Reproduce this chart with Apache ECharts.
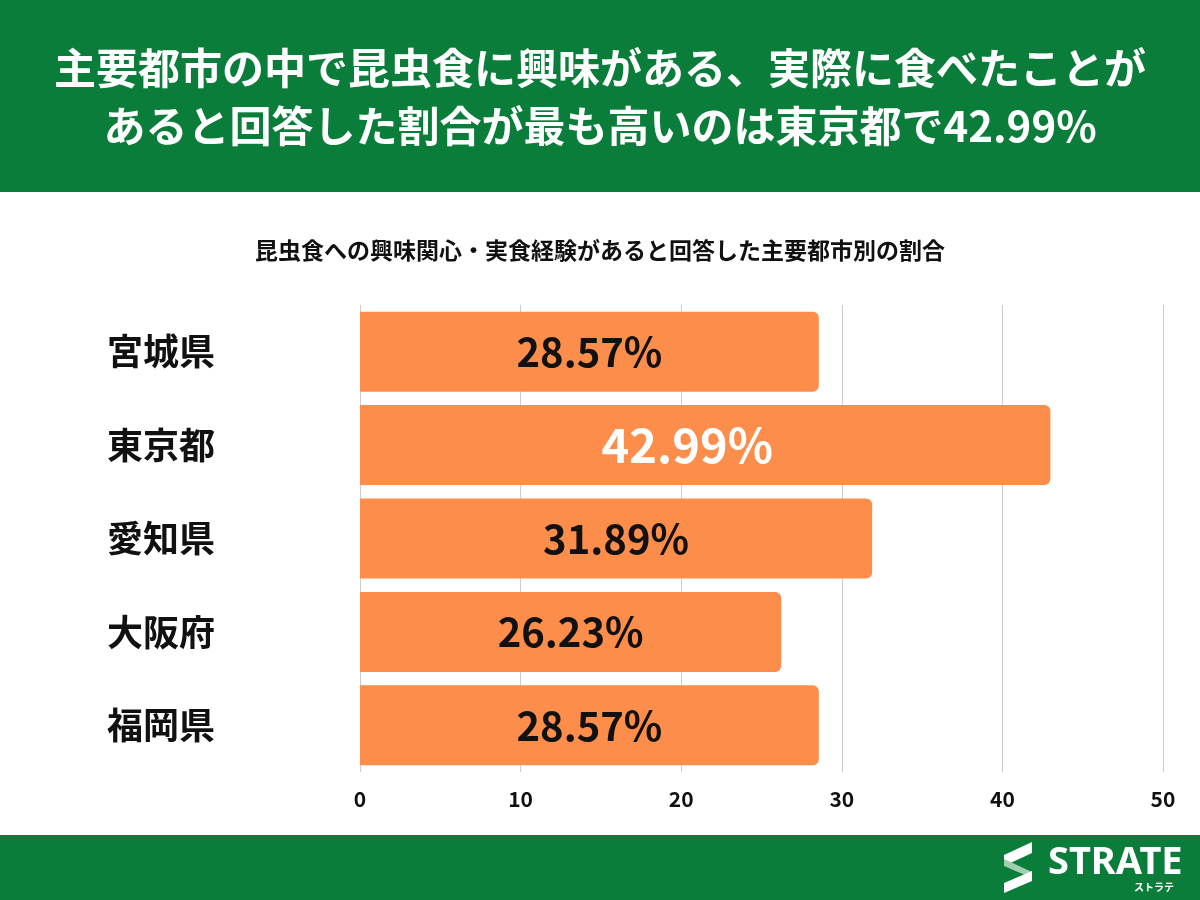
<!DOCTYPE html>
<html><head><meta charset="utf-8">
<script src="https://cdn.jsdelivr.net/npm/echarts@6/dist/echarts.min.js"></script>
<style>html,body{margin:0;padding:0;background:#fff}#c{width:1200px;height:900px}</style>
</head><body><div id="c"></div>
<script>
const titleLines = ['主要都市の中で昆虫食に興味がある、実際に食べたことが', 'あると回答した割合が最も高いのは東京都で42.99%'];
const subtitle = '昆虫食への興味関心・実食経験があると回答した主要都市別の割合';
const categories = ['宮城県', '東京都', '愛知県', '大阪府', '福岡県'];
const values = [28.57, 42.99, 31.89, 26.23, 28.57];
const highlight = '東京都';
const xTicks = { min: 0, max: 50, interval: 10 };

const F = '"Noto Sans CJK JP", "Noto Sans", sans-serif';
const GREEN = '#0a7d3a';
const ORANGE = '#fd8d4b';

const chart = echarts.init(document.getElementById('c'), null, { renderer: 'canvas' });
chart.setOption({
  backgroundColor: '#fff',
  animation: false,
  graphic: [
    { type: 'rect', left: 0, top: 0, shape: { width: 1200, height: 192 }, style: { fill: GREEN }, z: 0 },
    { type: 'text', x: 600, y: 68, style: { text: titleLines[0], fill: '#fff', font: 'bold 42px ' + F, textAlign: 'center', textVerticalAlign: 'middle' } },
    { type: 'text', x: 600, y: 126, style: { text: titleLines[1], fill: '#fff', font: 'bold 42px ' + F, textAlign: 'center', textVerticalAlign: 'middle' } },
    { type: 'text', x: 600, y: 250, style: { text: subtitle, fill: '#111', font: 'bold 23px ' + F, textAlign: 'center', textVerticalAlign: 'middle' } },
    { type: 'rect', left: 0, top: 835, shape: { width: 1200, height: 65 }, style: { fill: GREEN }, z: 0 },
    { type: 'polygon', shape: { points: [[1032, 842], [1032, 853], [1004, 866], [1004, 855]] }, style: { fill: '#fff' } },
    { type: 'polygon', shape: { points: [[1004, 859], [1032, 872], [1032, 878], [1004, 866]] }, style: { fill: '#9fcfae' } },
    { type: 'polygon', shape: { points: [[1032, 871], [1032, 881], [1004, 893], [1004, 883]] }, style: { fill: '#fff' } },
    { type: 'text', x: 1048, y: 863, style: { text: 'STRATE', fill: '#fff', font: 'bold 38px "Noto Sans", sans-serif', textVerticalAlign: 'middle' } },
    { type: 'text', x: 1134, y: 887, style: { text: 'ストラテ', fill: '#fff', font: 'bold 10px ' + F, textVerticalAlign: 'middle' } }
  ],
  grid: { left: 360, right: 37, top: 305, bottom: 128, containLabel: false },
  xAxis: {
    type: 'value', min: xTicks.min, max: xTicks.max, interval: xTicks.interval,
    axisLine: { show: false }, axisTick: { show: false },
    splitLine: { show: true, lineStyle: { color: '#cccccc', width: 1 } },
    axisLabel: { color: '#111', fontSize: 21, fontWeight: 'bold', fontFamily: F, margin: 17 }
  },
  yAxis: {
    type: 'category', data: categories, inverse: true,
    axisLine: { show: false }, axisTick: { show: false },
    axisLabel: { color: '#111', fontSize: 36, fontWeight: 'bold', fontFamily: F, margin: 145 }
  },
  series: [{
    type: 'bar', barWidth: 80,
    data: values.map((v, i) => ({
      value: v,
      label: categories[i] === highlight
        ? { color: '#fff', fontSize: 47, offset: [-18, 0] }
        : { color: '#111', fontSize: 40 }
    })),
    itemStyle: { color: ORANGE, borderRadius: [0, 6, 6, 0] },
    label: {
      show: true, position: 'inside', fontWeight: 'bold', fontFamily: F,
      formatter: p => p.value.toFixed(2) + '%'
    }
  }]
});
</script></body></html>
